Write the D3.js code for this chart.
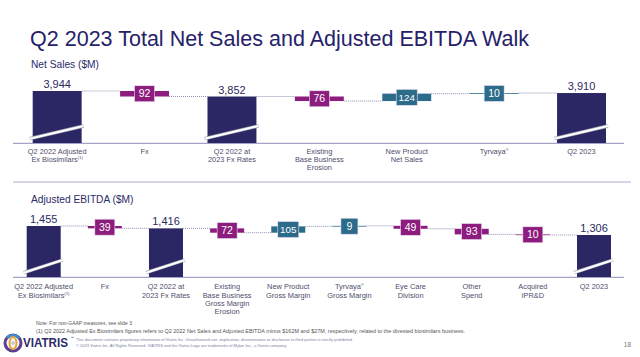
<!DOCTYPE html>
<html><head><meta charset="utf-8">
<script src="https://cdn.jsdelivr.net/npm/d3@7"></script>
<style>html,body{margin:0;padding:0;background:#fff;}svg{display:block;font-family:"Liberation Sans",Arial,sans-serif;}</style>
</head><body>
<svg id="chart" width="640" height="357"></svg>
<script>
// ---------- DATA ----------
const salesCategories = ["Q2 2022 Adjusted|Ex Biosimilars(1)", "Fx", "Q2 2022 at|2023 Fx Rates", "Existing|Base Business|Erosion", "New Product|Net Sales", "Tyrvaya®", "Q2 2023"];
const salesValues = [3944, -92, 3852, -76, 124, 10, 3910];
const salesKinds = ["total", "delta", "total", "delta", "delta", "delta", "total"];
const salesValueLabels = ["3,944", "92", "3,852", "76", "124", "10", "3,910"];

const ebitdaCategories = ["Q2 2022 Adjusted|Ex Biosimilars(1)", "Fx", "Q2 2022 at|2023 Fx Rates", "Existing|Base Business|Gross Margin|Erosion", "New Product|Gross Margin", "Tyrvaya®|Gross Margin", "Eye Care|Division", "Other|Spend", "Acquired|IPR&D", "Q2 2023"];
const ebitdaValues = [1455, -39, 1416, -72, 105, 9, -49, -93, -10, 1306];
const ebitdaKinds = ["total", "delta", "total", "delta", "delta", "delta", "delta", "delta", "delta", "total"];
const ebitdaValueLabels = ["1,455", "39", "1,416", "72", "105", "9", "49", "93", "10", "1,306"];

// ---------- STYLE ----------
const NAVY = "#2a2764", PURPLE = "#8c1c7d", TEAL = "#2d6b8a", LABEL = "#4e4e6c", AXIS = "#a3a3c8";
const svg = d3.select("#chart");

// Title
svg.append("text").attr("x", 30).attr("y", 46).attr("font-size", 21.5).attr("fill", "#25226a")
  .attr("textLength", 499).attr("lengthAdjust", "spacingAndGlyphs")
  .text("Q2 2023 Total Net Sales and Adjusted EBITDA Walk");

// separator
svg.append("line").attr("x1", 13).attr("x2", 631).attr("y1", 182).attr("y2", 182)
  .attr("stroke", "#c9c9e0").attr("stroke-width", 1.5);

function drawWalk(o) {
  const g = svg.append("g");
  g.append("text").attr("x", 31).attr("y", o.subY).attr("font-size", 10.2).attr("fill", "#2b2a6a").text(o.subtitle);
  const x = d3.scaleBand().domain(d3.range(o.cats.length)).range(o.xRange).paddingInner(o.pad).paddingOuter(0);
  const y = d3.scaleLinear().domain(o.yDomain).range(o.yRange);
  const base = o.yRange[0];
  let level = 0;
  const items = o.values.map((v, i) => {
    let a, b;
    if (o.kinds[i] === "total") { a = y.domain()[0]; b = v; level = v; }
    else { a = level; b = level + v; level = b; }
    return { i, v, kind: o.kinds[i], a, b, end: level, label: o.labels[i] };
  });
  g.append("line").attr("x1", 13).attr("x2", 624).attr("y1", base + 0.3).attr("y2", base + 0.3)
    .attr("stroke", AXIS).attr("stroke-width", 1.3);
  for (let k = 0; k < items.length - 1; k++) {
    const yy = y(items[k].end);
    g.append("line").attr("x1", x(k) + x.bandwidth()).attr("x2", x(k + 1)).attr("y1", yy).attr("y2", yy)
      .attr("stroke", "#9090b4").attr("stroke-width", 1).attr("stroke-dasharray", "1,1");
  }
  items.forEach(d => {
    const x0 = x(d.i), bw = x.bandwidth(), cx = x0 + bw / 2;
    if (d.kind === "total") {
      g.append("rect").attr("x", x0).attr("y", y(d.b)).attr("width", bw).attr("height", base - y(d.b)).attr("fill", NAVY);
      const p = [[x0 - 3, base - 4.3], [x0 + bw + 2, base - 17]];
      g.append("line").attr("x1", p[0][0]).attr("y1", p[0][1]).attr("x2", p[1][0]).attr("y2", p[1][1])
        .attr("stroke", "#a0a0b0").attr("stroke-width", 3.4);
      g.append("line").attr("x1", p[0][0]).attr("y1", p[0][1]).attr("x2", p[1][0]).attr("y2", p[1][1])
        .attr("stroke", "#fff").attr("stroke-width", 2);
      g.append("text").attr("x", cx).attr("y", y(d.b) - 3).attr("text-anchor", "middle")
        .attr("font-size", 11).attr("fill", "#2b2a5e").text(d.label);
    } else {
      const col = d.v < 0 ? PURPLE : TEAL;
      const top = Math.min(y(d.a), y(d.b)), h = Math.max(Math.abs(y(d.a) - y(d.b)), 0.8);
      g.append("rect").attr("x", x0).attr("y", top).attr("width", bw).attr("height", h).attr("fill", col);
      const cy = top + h / 2;
      const boxW = d.label.length >= 3 ? 21 : (d.label.length === 1 ? 17 : 20);
      g.append("rect").attr("x", cx - boxW / 2).attr("y", cy - 8).attr("width", boxW).attr("height", 16)
        .attr("fill", col).attr("stroke", "#e9dff0").attr("stroke-width", 0.6);
      g.append("text").attr("x", cx).attr("y", cy + 3.6).attr("text-anchor", "middle")
        .attr("font-size", d.label.length >= 3 ? 9.8 : 10.5).attr("fill", "#fff").text(d.label);
    }
    const lines = o.cats[d.i].split("|");
    const t = g.append("text").attr("text-anchor", "middle").attr("font-size", 7.4).attr("fill", LABEL);
    lines.forEach((ln, li) => {
      const yy = o.labY + li * o.labStep;
      let m = ln.match(/^(.*?)(\(1\)|®)$/);
      if (m) {
        t.append("tspan").attr("x", cx).attr("y", yy).text(m[1]);
        t.append("tspan").attr("font-size", 4.2).attr("dy", -3).text(m[2]);
      } else {
        t.append("tspan").attr("x", cx).attr("y", yy).text(ln);
      }
    });
  });
}

drawWalk({ subtitle: "Net Sales ($M)", subY: 67.5, cats: salesCategories, values: salesValues, kinds: salesKinds,
  labels: salesValueLabels, xRange: [32.7, 606], pad: 0.44, yDomain: [3075, 3944], yRange: [143, 91], labY: 153.5, labStep: 8.4 });
drawWalk({ subtitle: "Adjusted EBITDA ($M)", subY: 203, cats: ebitdaCategories, values: ebitdaValues, kinds: ebitdaKinds,
  labels: ebitdaValueLabels, xRange: [26.7, 611], pad: 0.444, yDomain: [610, 1455], yRange: [277, 226], labY: 289.3, labStep: 8.3 });

// Footer notes
svg.append("text").attr("x", 36).attr("y", 324.5).attr("font-size", 5).attr("fill", "#555").text("Note: For non-GAAP measures, see slide 3");
svg.append("text").attr("x", 36).attr("y", 333.3).attr("font-size", 5).attr("fill", "#555")
  .attr("textLength", 429).attr("lengthAdjust", "spacingAndGlyphs")
  .text("(1)     Q2 2022 Adjusted Ex Biosimilars figures refers to Q2 2022 Net Sales and Adjusted EBITDA minus $162M and $27M, respectively, related to the divested biosimilars business.");

// logo
const lg = svg.append("g").attr("transform", "translate(13,343)");
lg.append("circle").attr("r", 8).attr("fill", "none").attr("stroke", "#5b3f91").attr("stroke-width", 3);
lg.append("path").attr("d", "M-6,-5 A8,8 0 0,1 6,-5").attr("fill", "none").attr("stroke", "#3b8fd0").attr("stroke-width", 2.5);
lg.append("ellipse").attr("rx", 3.5).attr("ry", 6).attr("fill", "none").attr("stroke", "#e8a33a").attr("stroke-width", 2);
lg.append("circle").attr("r", 2).attr("fill", "#c9c9d9");
svg.append("text").attr("x", 23).attr("y", 347).attr("font-size", 12.5).attr("font-weight", "bold").attr("fill", "#2b2a6a")
  .attr("textLength", 45).attr("lengthAdjust", "spacingAndGlyphs").text("VIATRIS");
svg.append("text").attr("x", 70.5).attr("y", 339).attr("font-size", 3.5).attr("fill", "#2b2a6a").text("™");
svg.append("text").attr("x", 76).attr("y", 341).attr("font-size", 3.3).attr("fill", "#7d7da6")
  .attr("textLength", 277).attr("lengthAdjust", "spacingAndGlyphs")
  .text("This document contains proprietary information of Viatris Inc. Unauthorized use, duplication, dissemination or disclosure to third parties is strictly prohibited.");
svg.append("text").attr("x", 76).attr("y", 346.5).attr("font-size", 3.3).attr("fill", "#7d7da6")
  .attr("textLength", 211).attr("lengthAdjust", "spacingAndGlyphs")
  .text("© 2023 Viatris Inc. All Rights Reserved. VIATRIS and the Viatris Logo are trademarks of Mylan Inc., a Viatris company.");
svg.append("text").attr("x", 631).attr("y", 347).attr("text-anchor", "end").attr("font-size", 6.5).attr("fill", "#777").text("18");
</script>
</body></html>
